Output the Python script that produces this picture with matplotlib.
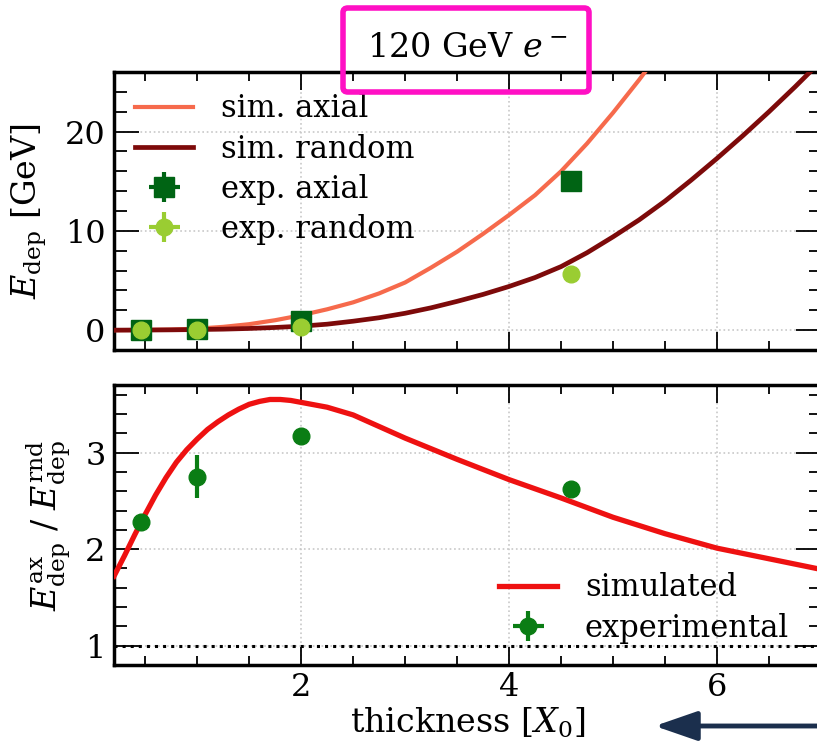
import matplotlib
matplotlib.use("Agg")
import matplotlib.pyplot as plt
from matplotlib.patches import FancyBboxPatch, FancyArrowPatch

plt.rcParams['font.family'] = ['DejaVu Serif']
plt.rcParams['mathtext.fontset'] = 'dejavuserif'

# simulated curves
x_sim = [0.2, 0.5, 0.75, 1.0, 1.25, 1.5, 1.75, 2.0, 2.25, 2.5, 2.75, 3.0, 3.25, 3.5,
         3.75, 4.0, 4.25, 4.5, 4.75, 5.0, 5.25, 5.5, 5.75, 6.0, 6.25, 6.5, 6.75, 7.0]
sim_axial = [0.0, 0.02, 0.06, 0.15, 0.33, 0.6, 1.0, 1.5, 2.1, 2.8, 3.7, 4.8, 6.3, 7.9,
             9.7, 11.6, 13.6, 16.0, 18.8, 21.9, 25.2, 28.7, 32.4, 36.2, 40.2, 44.4, 48.8, 53.4]
sim_random = [0.0, 0.01, 0.03, 0.06, 0.1, 0.17, 0.27, 0.4, 0.6, 0.9, 1.25, 1.7, 2.25, 2.9,
              3.6, 4.4, 5.3, 6.4, 7.8, 9.4, 11.1, 13.0, 15.1, 17.3, 19.6, 22.0, 24.5, 27.1]

x_ratio = [0.2, 0.3, 0.4, 0.5, 0.6, 0.7, 0.8, 0.9, 1.0, 1.1, 1.2, 1.3, 1.4, 1.5, 1.6, 1.7,
           1.8, 1.9, 2.0, 2.25, 2.5, 2.75, 3.0, 3.5, 4.0, 4.5, 5.0, 5.5, 6.0, 6.5, 7.0]
sim_ratio = [1.72, 1.93, 2.15, 2.36, 2.56, 2.74, 2.90, 3.03, 3.14, 3.24, 3.32, 3.39, 3.45,
             3.50, 3.53, 3.55, 3.55, 3.54, 3.52, 3.47, 3.39, 3.27, 3.15, 2.93, 2.72, 2.53,
             2.33, 2.16, 2.01, 1.90, 1.79]

# experimental points
x_exp = [0.46, 1.0, 2.0, 4.6]
exp_axial = [0.05, 0.1, 0.9, 15.0]
exp_axial_err = [0.05, 0.05, 0.1, 0.3]
exp_random = [0.0, 0.05, 0.35, 5.7]
exp_random_err = [0.05, 0.05, 0.1, 0.2]
exp_ratio = [2.28, 2.75, 3.17, 2.62]
exp_ratio_err = [0.04, 0.22, 0.03, 0.03]
x_err = [0.02, 0.02, 0.02, 0.02]

W, H = 817, 742
fig = plt.figure(figsize=(W / 100, H / 100), dpi=100)
L = 114 / W
wd = (821 - 114) / W
ax1 = fig.add_axes([L, 1 - 350 / H, wd, (350 - 72) / H])
ax2 = fig.add_axes([L, 1 - 665 / H, wd, (665 - 385) / H])

ax1.plot(x_sim, sim_axial, color='#f66a4c', lw=3.0, label='sim. axial', zorder=3)
ax1.plot(x_sim, sim_random, color='#7d0a0a', lw=3.4, label='sim. random', zorder=3)
ax1.errorbar(x_exp, exp_axial, yerr=exp_axial_err, xerr=x_err, fmt='s', color='#006414',
             ms=15, elinewidth=3, capsize=0, label='exp. axial', zorder=4)
ax1.errorbar(x_exp, exp_random, yerr=exp_random_err, xerr=x_err, fmt='o', color='#9acd32',
             ms=12, elinewidth=3, capsize=0, label='exp. random', zorder=5)

ax2.plot(x_ratio, sim_ratio, color='#ee1111', lw=3.8, label='simulated', zorder=3)
ax2.errorbar(x_exp, exp_ratio, yerr=exp_ratio_err, xerr=x_err, fmt='o', color='#0a7d14',
             ms=12, elinewidth=3, capsize=0, label='experimental', zorder=4)
ax2.axhline(1, color='black', ls=':', lw=2.2, zorder=2)

ax1.set_ylim(-2, 26)
ax2.set_ylim(0.8, 3.7)
for ax in (ax1, ax2):
    ax.set_xlim(0.2, 7.0)
    ax.set_xticks([2, 4, 6])
    ax.set_xticks([x * 0.5 for x in range(1, 14)], minor=True)
    ax.grid(True, which='major', ls=':', color='#c8c8c8', lw=1.2)
    ax.tick_params(which='both', direction='in', top=True, right=True, labelsize=23, width=1.3)
    ax.tick_params(axis='x', which='major', length=13, pad=5)
    ax.tick_params(axis='x', which='minor', length=6.5)
    ax.tick_params(axis='y', which='major', length=18, pad=6)
    ax.tick_params(axis='y', which='minor', length=9)
    for s in ax.spines.values():
        s.set_linewidth(2.5)

ax1.set_yticks([0, 10, 20])
ax1.set_yticks(range(-2, 27, 2), minor=True)
ax1.tick_params(labelbottom=False)
ax2.set_yticks([1, 2, 3])
ax2.set_yticks([0.8 + 0.2 * i for i in range(15)], minor=True)

ax1.set_ylabel(r'$E_{\rm dep}$ [GeV]', fontsize=24)
ax1.yaxis.set_label_coords(-0.092, 0.5)
ax2.set_ylabel(r'$E_{\rm dep}^{\rm ax}$ / $E_{\rm dep}^{\rm rnd}$', fontsize=24)
ax2.yaxis.set_label_coords(-0.058, 0.5)
ax2.set_xlabel(r'thickness [$X_0$]', fontsize=24, labelpad=2)
ax1.set_title(r'120 GeV $e^-$', fontsize=24, pad=11)

ax1.legend(loc='upper left', frameon=False, fontsize=22, handlelength=1.9,
           labelspacing=0.3, borderaxespad=0.3, borderpad=0.4, handletextpad=0.9)
ax2.legend(loc='lower right', frameon=False, fontsize=22, handlelength=1.9,
           labelspacing=0.3, borderaxespad=0.3, borderpad=0.4, handletextpad=0.9,
           bbox_to_anchor=(0.985, 0.0))

# highlight box round the title and arrow at the x label
box = FancyBboxPatch((343 / W, 1 - 92 / H), (589 - 343) / W, (92 - 8) / H,
                     boxstyle='round,pad=0,rounding_size=0.006', transform=fig.transFigure,
                     fill=False, ec='#ff10c4', lw=4, zorder=10)
fig.patches.append(box)
arrow = FancyArrowPatch((830 / W, 1 - 726 / H), (652 / W, 1 - 726 / H),
                        transform=fig.transFigure, arrowstyle='-|>,head_length=26,head_width=9',
                        color='#1b2f4d', lw=3.5, mutation_scale=1)
fig.patches.append(arrow)

fig.savefig('out.png', dpi=100)
